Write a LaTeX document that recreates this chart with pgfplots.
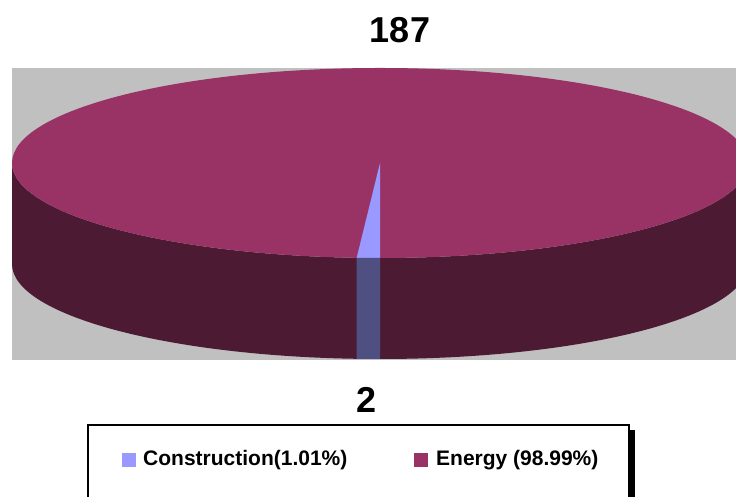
\documentclass[border=0pt]{standalone}
\usepackage{pgfplots}
\pgfplotsset{compat=1.18}
\usepackage{fontspec}
\setmainfont{Liberation Sans}
\definecolor{energy}{HTML}{993366}
\definecolor{energyside}{HTML}{4D1A33}
\definecolor{constr}{HTML}{9999FF}
\definecolor{constrside}{HTML}{4F4F82}
\definecolor{bg}{HTML}{C0C0C0}
\begin{document}
\begin{tikzpicture}
% data: Construction 2 (1.01%), Energy 187 (98.99%)
\def\pA{1.01}
\def\pB{98.99}
\pgfmathsetmacro\angA{360*\pA/(\pA+\pB)}
\pgfmathsetmacro\startA{270-\angA}
\begin{axis}[width=736pt,height=497pt,scale only axis,
  xmin=0,xmax=736,ymin=0,ymax=497,axis lines=none,clip=true]
\coordinate (SW) at (axis cs:0,0);
\coordinate (NE) at (axis cs:736,497);
% background
\fill[bg] (axis cs:12,137) rectangle (axis cs:740,429);
% Energy side
\fill[energyside] (axis cs:12,334) -- ++(0,-101pt)
  arc[start angle=180,end angle=360,x radius=368pt,y radius=95pt]
  -- ++(0,101pt)
  arc[start angle=0,end angle=-180,x radius=368pt,y radius=95pt] -- cycle;
% Energy top
\fill[energy] (axis cs:380,334) ellipse[x radius=368pt,y radius=95pt];
% Construction top
\fill[constr] (axis cs:380,334) -- ++(\startA:368pt and 95pt)
  arc[start angle=\startA,end angle=270,x radius=368pt,y radius=95pt] -- cycle;
% Construction side
\fill[constrside] (axis cs:380,334) ++(\startA:368pt and 95pt) -- ++(0,-101pt)
  arc[start angle=\startA,end angle=270,x radius=368pt,y radius=95pt]
  -- ++(0,101pt)
  arc[start angle=270,end angle=\startA,x radius=368pt,y radius=95pt] -- cycle;
% value labels
\node[font=\bfseries\fontsize{36}{40}\selectfont] at (axis cs:400,467) {187};
\node[font=\bfseries\fontsize{36}{40}\selectfont] at (axis cs:367,97) {2};
% legend
\fill[black] (axis cs:93,67) rectangle (axis cs:635,-10);
\filldraw[fill=white,draw=black,line width=1.2pt] (axis cs:88,72) rectangle (axis cs:629,-10);
\fill[constr] (axis cs:122,44) rectangle (axis cs:136,30);
\fill[energy] (axis cs:414,44) rectangle (axis cs:428,30);
\node[anchor=west,inner sep=0pt,font=\bfseries\fontsize{21}{24}\selectfont] at (axis cs:143,37) {Construction(1.01\%)};
\node[anchor=west,inner sep=0pt,font=\bfseries\fontsize{21}{24}\selectfont] at (axis cs:436,37) {Energy (98.99\%)};
\end{axis}
\pgfresetboundingbox
\path (SW) rectangle (NE);
\end{tikzpicture}
\end{document}
